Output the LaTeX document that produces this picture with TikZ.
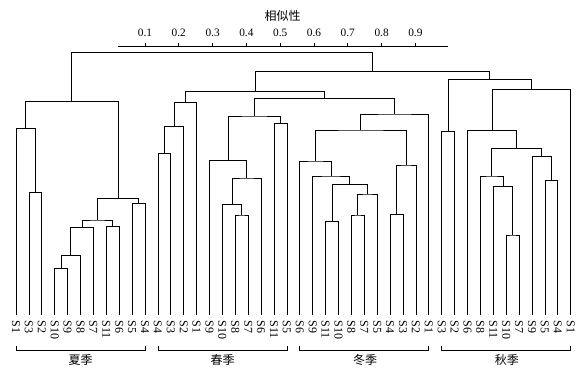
\documentclass[tikz,border=0pt]{standalone}
\usepackage{fontspec}
\setmainfont{Liberation Serif}
\newfontfamily\cjk{Noto Sans CJK SC}
\usetikzlibrary{calc}

% join two clusters at a given height (pixel rows, counted from the top)
\newcommand{\dmerge}[4]{%
  \coordinate (#1) at ($(#2 |- 0,#4)!.5!(#3 |- 0,#4)$);
  \draw[link] (#2) |- (#1) -| (#3);
}

\begin{document}
\begin{tikzpicture}[
    x=0.75pt, y=-0.75pt,
    link/.style={line width=0.6pt, black},
    leaf/.style={rotate=-90, anchor=west, inner xsep=4pt, inner ysep=0pt,
                 font=\fontsize{9}{10}\selectfont},
    season/.style={font=\cjk\fontsize{9}{10}\selectfont},
    ticklab/.style={font=\fontsize{8.5}{10}\selectfont, inner sep=0pt}
]
    \useasboundingbox (0,0) rectangle (583,371);

    % similarity scale
    \node[season] (simtitle) at (282.7,16) {相似性};
    \draw[link] (118.3,46.7) -- (448.3,46.7);
    \foreach \v [count=\k] in {0.1,0.2,0.3,0.4,0.5,0.6,0.7,0.8,0.9} {
        \draw[link] ({111.2+33.8*\k},46.7) -- ({111.2+33.8*\k},42.7);
        \node[ticklab] (t\k) at ({111.2+33.8*\k},33.3) {\v};
    }

    % leaves
    \foreach \n [count=\k from 0] in {1,3,2,10,9,8,7,11,6,5,4}
        \node[leaf] (su\n) at ({16+12.9*\k},315) {S\n};
    \foreach \n [count=\k from 11] in {4,3,2,1,9,10,8,7,6,11,5}
        \node[leaf] (sp\n) at ({16+12.9*\k},315) {S\n};
    \foreach \n [count=\k from 22] in {6,9,11,10,8,7,5,4,3,2,1}
        \node[leaf] (wi\n) at ({16+12.9*\k},315) {S\n};
    \foreach \n [count=\k from 33] in {3,2,6,8,11,10,7,9,5,4,1}
        \node[leaf] (au\n) at ({16+12.9*\k},315) {S\n};

    % summer
    \dmerge{m1}{su10}{su9}{268.7}
    \dmerge{m2}{m1}{su8}{255.7}
    \dmerge{m3}{m2}{su7}{227.7}
    \dmerge{m4}{su11}{su6}{226.7}
    \dmerge{m5}{m3}{m4}{220}
    \dmerge{m6}{su5}{su4}{203.3}
    \dmerge{m7}{m5}{m6}{198.7}
    \dmerge{m8}{su3}{su2}{192.7}
    \dmerge{m9}{su1}{m8}{128.3}
    \dmerge{summer}{m9}{m7}{101.7}

    % spring
    \dmerge{n1}{sp4}{sp3}{153.3}
    \dmerge{n2}{n1}{sp2}{126.7}
    \dmerge{n3}{n2}{sp1}{102.5}
    \dmerge{n4}{sp8}{sp7}{215}
    \dmerge{n5}{sp10}{n4}{204.3}
    \dmerge{n6}{n5}{sp6}{178}
    \dmerge{n7}{sp9}{n6}{160.7}
    \dmerge{n8}{sp11}{sp5}{123.3}
    \dmerge{n9}{n7}{n8}{116}

    % winter
    \dmerge{w1}{wi11}{wi10}{221.7}
    \dmerge{w2}{wi8}{wi7}{215}
    \dmerge{w3}{w2}{wi5}{194}
    \dmerge{w4}{w1}{w3}{184.3}
    \dmerge{w5}{wi9}{w4}{176}
    \dmerge{w6}{wi6}{w5}{161}
    \dmerge{w7}{wi4}{wi3}{214.3}
    \dmerge{w8}{w7}{wi2}{165}
    \dmerge{w9}{w6}{w8}{130}
    \dmerge{w10}{w9}{wi1}{114}

    % autumn
    \dmerge{a1}{au10}{au7}{235}
    \dmerge{a2}{au11}{a1}{186.7}
    \dmerge{a3}{au8}{a2}{176}
    \dmerge{a4}{au5}{au4}{180.7}
    \dmerge{a5}{au9}{a4}{156.7}
    \dmerge{a6}{a3}{a5}{148.7}
    \dmerge{a7}{au6}{a6}{130.7}
    \dmerge{a8}{a7}{au1}{89.3}
    \dmerge{a9}{au3}{au2}{131.7}
    \dmerge{autumn}{a9}{a8}{79.3}

    % upper joins
    \dmerge{x1}{n9}{w10}{98.7}
    \dmerge{x2}{n3}{x1}{91.7}
    \dmerge{x3}{x2}{autumn}{71.7}
    \dmerge{root}{summer}{x3}{52.3}

    % season brackets
    \foreach \a/\b in {su1/su4, sp4/sp5, wi6/wi1, au3/au1}
        \draw[link] (\a |- 0,345.7) -- (\a |- 0,350.7) -- (\b |- 0,350.7) -- (\b |- 0,345.7);
    \node[season] (xia) at (80.7,360) {夏季};
    \node[season] (chun) at (222.7,360) {春季};
    \node[season] (dong) at (365.2,360) {冬季};
    \node[season] (qiu) at (506.9,360) {秋季};
\end{tikzpicture}
\end{document}
